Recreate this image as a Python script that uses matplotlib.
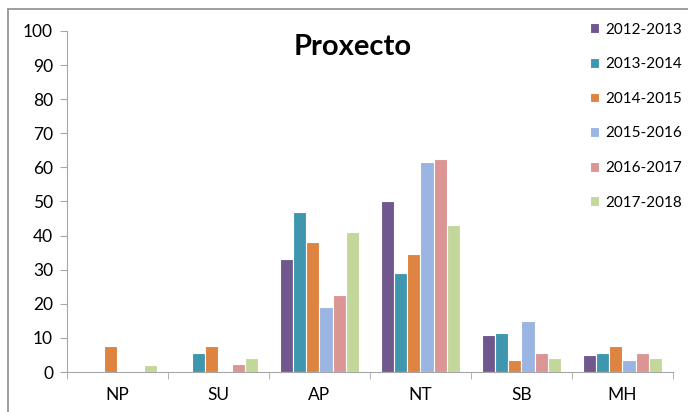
import numpy as np
import matplotlib.pyplot as plt
from matplotlib.patches import Rectangle

# Datos
categorias = ['NP', 'SU', 'AP', 'NT', 'SB', 'MH']
cursos = ['2012-2013', '2013-2014', '2014-2015', '2015-2016', '2016-2017', '2017-2018']
v_2012 = [0, 0, 33, 50, 11, 5]
v_2013 = [0, 5.5, 47, 29, 11.5, 5.5]
v_2014 = [7.5, 7.5, 38, 34.5, 3.5, 7.5]
v_2015 = [0, 0, 19, 61.5, 15, 3.5]
v_2016 = [0, 2.5, 22.5, 62.5, 5.5, 5.5]
v_2017 = [2, 4, 41, 43, 4, 4]
series = [v_2012, v_2013, v_2014, v_2015, v_2016, v_2017]
colores = ['#70588E', '#3E97AF', '#DD8440', '#9BB5E3', '#DB9594', '#C4D79B']

plt.rcParams['font.family'] = ['Lato', 'DejaVu Sans']

fig = plt.figure(figsize=(6.88, 4.12), dpi=100)
ax = fig.add_axes([0.0974, 0.097, 0.8806, 0.828])

x = np.arange(len(categorias))
ancho = 0.13
for i, (vals, c, lab) in enumerate(zip(series, colores, cursos)):
    ax.bar(x + (i - 2.5) * ancho, vals, ancho, color=c, edgecolor='white',
           linewidth=0.8, label=lab)

ax.set_xlim(-0.5, len(categorias) - 0.5)
ax.set_ylim(0, 100)
ax.set_yticks(range(0, 101, 10))
ax.set_xticks(x)
ax.set_xticklabels(categorias, fontsize=12.5)
ax.set_xticks(np.arange(-0.5, len(categorias), 1), minor=True)
ax.tick_params(axis='x', which='major', length=0, pad=11)
ax.tick_params(axis='x', which='minor', length=5, color='#A6A6A6')
ax.tick_params(axis='y', length=5, color='#A6A6A6', labelsize=12.5, pad=5)
for s in ['top', 'right']:
    ax.spines[s].set_visible(False)
for s in ['left', 'bottom']:
    ax.spines[s].set_color('#A6A6A6')

fig.text(0.512, 0.887, 'Proxecto', fontsize=21, fontweight='bold', ha='center', va='center')

ax.legend(loc='upper left', bbox_to_anchor=(0.848, 0.96), bbox_transform=fig.transFigure,
          frameon=False, fontsize=11, handlelength=0.6, handleheight=0.6,
          handletextpad=0.4, labelspacing=1.35, borderaxespad=0)

fig.patches.append(Rectangle((0.012, -0.01), 1.0, 0.988, transform=fig.transFigure,
                             fill=False, edgecolor='#8C8C8C', linewidth=1.2))

fig.savefig('out.png', dpi=100)
